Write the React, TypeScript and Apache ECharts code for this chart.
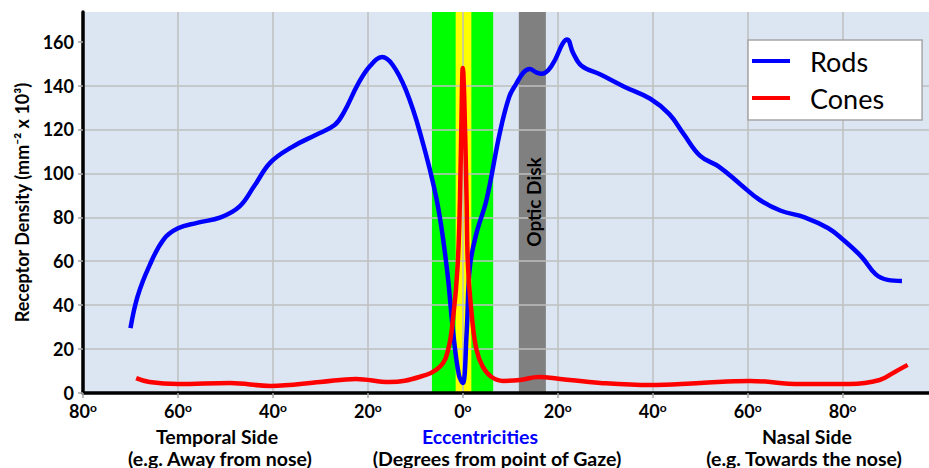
import React, { useEffect, useRef } from "react";
import * as echarts from "echarts";

const FONT = "Lato, 'DejaVu Sans', sans-serif";

const xTicks = [-80, -60, -40, -20, 0, 20, 40, 60, 80];
const yTicks = [0, 20, 40, 60, 80, 100, 120, 140, 160];

const rods: [number, number][] = [
  [-70, 29.5], [-68.5, 44], [-66, 58], [-63, 70], [-60, 75], [-56, 77.5], [-51, 80],
  [-47, 85], [-44, 94], [-40.5, 105], [-36, 112], [-31, 117.5], [-27, 122], [-25, 128],
  [-22, 141], [-19.5, 149], [-17, 153], [-14.8, 149.5], [-12, 138], [-9, 118.5], [-5.5, 88],
  [-3.4, 57.6], [-2, 27], [-0.8, 8], [0, 4.5], [0.8, 27], [1.5, 57.6], [2.9, 72.9],
  [5, 88], [7.8, 118.5], [9.8, 135], [11.3, 141], [12.8, 146], [14.1, 147.5], [15.5, 146],
  [16.6, 145.4], [18, 147], [19.5, 152], [21, 159], [22, 161], [23.2, 155], [25, 149],
  [29, 145], [34, 139.5], [39.5, 134], [43.5, 127], [46.5, 118], [50, 108], [54, 103],
  [58.5, 95], [62.5, 88], [67, 83], [72, 80], [77, 75], [80, 70], [84, 62], [87, 54],
  [89.5, 51.5], [92.5, 51],
];

const cones: [number, number][] = [
  [-68.8, 6.8], [-66, 5], [-60, 4.1], [-49, 4.6], [-40.5, 3.2], [-30, 5], [-22.5, 6.4],
  [-15.5, 5], [-9, 7.4], [-4.8, 12], [-3.1, 19.6], [-2, 35], [-1.1, 57.6], [-0.6, 88],
  [-0.2, 135], [0, 148], [0.3, 135], [0.8, 88], [1.1, 57.6], [2, 33], [2.9, 19.6],
  [4.2, 12], [6, 7.4], [8.5, 5.5], [12, 5.9], [16, 7.3], [20.5, 6.4], [29, 4.6],
  [39.5, 3.6], [50, 4.6], [60.5, 5.5], [71, 4.1], [81.5, 4.1], [87.8, 5.9], [91, 9.6],
  [93.7, 12.8],
];

const fovea = [-6.5, 6.4];
const foveola = [-1.5, 1.8];
const opticDisk = [11.8, 17.5];

const LBL = 19.5;

export default function App() {
  const ref = useRef<HTMLDivElement>(null);
  useEffect(() => {
    if (!ref.current) return;
    const chart = echarts.init(ref.current, null, { renderer: "svg" });
    const txt = (text: string, x: number, y: number, fill = "#000") => ({
      type: "text", x, y, z: 10,
      style: { text, fontFamily: FONT, fontSize: LBL, fontWeight: "bold", fill, align: "center", verticalAlign: "middle" },
    });
    chart.setOption({
      animation: false,
      backgroundColor: "#ffffff",
      textStyle: { fontFamily: FONT },
      grid: {
        left: 83, top: 12, right: 0, bottom: 75,
        show: true, backgroundColor: "#dce6f2", borderWidth: 0, z: 0,
      },
      legend: {
        data: ["Rods", "Cones"],
        orient: "vertical",
        left: 748, top: 40,
        icon: "rect",
        itemWidth: 38, itemHeight: 4, itemGap: 5,
        padding: [5, 38, 6, 4],
        backgroundColor: "#ffffff",
        borderColor: "#a6a6a6", borderWidth: 1.5,
        textStyle: { fontFamily: FONT, fontSize: 27, color: "#000", lineHeight: 32, padding: [0, 0, 0, 15] },
      },
      xAxis: {
        type: "value", min: -80, max: 98.2, z: 1.5,
        axisLine: { onZero: false, lineStyle: { color: "#000", width: 3.5 } },
        axisTick: { show: true, customValues: xTicks, length: 5, lineStyle: { color: "#a6a6a6", width: 1.5 } },
        splitLine: { show: true, lineStyle: { color: "#bfbfbf", width: 1.5 } },
        axisLabel: {
          customValues: xTicks, margin: 8,
          formatter: (v: number) => `${Math.abs(v)}{s|o}`,
          color: "#000", fontFamily: FONT, fontWeight: "bold", fontSize: 18,
          rich: { s: { fontSize: 12, fontWeight: "bold", fontFamily: FONT, padding: [0, 0, 8, 0], color: "#000" } },
        },
      },
      yAxis: {
        type: "value", min: 0, max: 173.5, z: 1.5,
        name: "Receptor Density (mm⁻² x 10³)",
        nameLocation: "middle", nameRotate: 90, nameGap: 52,
        nameTextStyle: { fontFamily: FONT, fontWeight: "bold", fontSize: 18, color: "#000" },
        axisLine: { show: true, onZero: false, lineStyle: { color: "#000", width: 3.5 } },
        axisTick: { show: true, customValues: yTicks, length: 5, lineStyle: { color: "#a6a6a6", width: 1.5 } },
        splitLine: { show: true, showMaxLine: false, lineStyle: { color: "#bfbfbf", width: 1.5 } },
        axisLabel: {
          customValues: yTicks, margin: 9,
          color: "#000", fontFamily: FONT, fontWeight: "bold", fontSize: 18,
        },
      },
      series: [
        {
          name: "bands", type: "line", data: [], z: 1, silent: true,
          markArea: {
            silent: true,
            data: [
              [{ xAxis: fovea[0], itemStyle: { color: "#00ff00", opacity: 1 } }, { xAxis: fovea[1] }],
              [{ xAxis: foveola[0], itemStyle: { color: "#ffff00", opacity: 1 } }, { xAxis: foveola[1] }],
              [{ xAxis: opticDisk[0], itemStyle: { color: "#808080", opacity: 1 } }, { xAxis: opticDisk[1] }],
            ],
          },
        },
        {
          name: "Rods", type: "line", data: rods, smooth: 0.4, showSymbol: false, z: 3,
          itemStyle: { color: "#0000ff" },
          lineStyle: { color: "#0000ff", width: 4.5 },
        },
        {
          name: "Cones", type: "line", data: cones, smooth: 0.4, showSymbol: false, z: 3,
          itemStyle: { color: "#ff0000" },
          lineStyle: { color: "#ff0000", width: 4.5 },
        },
      ],
      graphic: [
        {
          type: "text", x: 533, y: 202, rotation: Math.PI / 2, z: 10,
          style: { text: "Optic Disk", fontFamily: FONT, fontSize: 19, fontWeight: "bold", fill: "#000", align: "center", verticalAlign: "middle" },
        },
        txt("Temporal Side", 217, 436),
        txt("(e.g. Away from nose)", 220, 458),
        txt("Eccentricities", 480, 436, "#0000ff"),
        txt("(Degrees from point of Gaze)", 497, 458),
        txt("Nasal Side", 807, 436),
        txt("(e.g. Towards the nose)", 804, 458),
      ],
    });
    return () => chart.dispose();
  }, []);
  return <div ref={ref} style={{ position: "fixed", left: 0, top: 0, width: 929, height: 468 }} />;
}
